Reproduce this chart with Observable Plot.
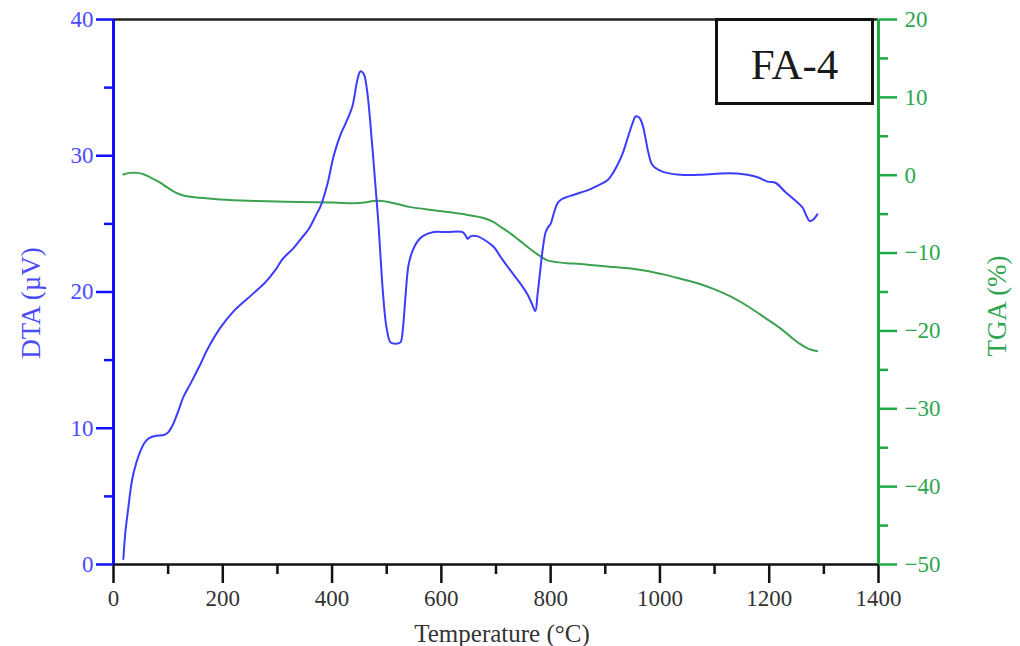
<!DOCTYPE html>
<html>
<head>
<meta charset="utf-8">
<script src="https://cdn.jsdelivr.net/npm/d3@7"></script>
<script src="https://cdn.jsdelivr.net/npm/@observablehq/plot@0.6"></script>
<style>
  html, body { margin: 0; padding: 0; background: #fff; }
  #wrap { position: relative; width: 1020px; height: 646px; overflow: hidden; }
  #tag {
    position: absolute; left: 715px; top: 18px; width: 159px; height: 87px;
    box-sizing: border-box; border: 3px solid #111; background: #fff;
    font-family: "Liberation Serif", serif; font-size: 43px; color: #1a1a1a;
    display: flex; align-items: center; justify-content: center; padding-top: 6px;
  }
  .vtitle {
    position: absolute; white-space: nowrap; font-family: "Liberation Serif", serif;
    font-size: 27px; line-height: 1; transform: translate(-50%, -50%) rotate(-90deg);
  }
  #dtaT { left: 31px; top: 303px; color: #4a4aff; }
  #tgaT { left: 997px; top: 306px; color: #2ea64f; }
  #xT {
    position: absolute; left: 502px; top: 633px; transform: translate(-50%, -50%);
    white-space: nowrap; font-family: "Liberation Serif", serif; font-size: 25px; line-height: 1; color: #333;
  }
</style>
</head>
<body>
<div id="wrap">
  <div id="tag"></div>
  <div id="dtaT" class="vtitle"></div>
  <div id="tgaT" class="vtitle"></div>
  <div id="xT"></div>
</div>
<script>
// ---- data ----
const sampleLabel = "FA-4";
const xTitle = "Temperature (°C)";
const dtaTitle = "DTA (µV)";
const tgaTitle = "TGA (%)";

const xMajorTicks = [0, 200, 400, 600, 800, 1000, 1200, 1400];
const xMinorTicks = [100, 300, 500, 700, 900, 1100, 1300];
const dtaMajorTicks = [0, 10, 20, 30, 40];
const dtaMinorTicks = [5, 15, 25, 35];
const tgaMajorTicks = [-50, -40, -30, -20, -10, 0, 10, 20];
const tgaMinorTicks = [-45, -35, -25, -15, -5, 5, 15];

// DTA curve: temperature (°C) and signal (µV)
const dtaTemp = [18,22,26,34,42,50,58,66,78,92,100,108,118,128,140,159,172,196,220,256,280,296,309,329,345,357,370,380,392,403,415,425,437,446,452,458,464,474,484,494,500,507,516,525,530,534,540,547,556,566,586,610,639,645,648,654,665,680,696,708,726,745,758,766,772,776,781,786,791,796,800,806,814,825,840,855,870,886,904,915,922,932,941,950,956,962,968,974,979,985,992,1007,1038,1070,1111,1140,1160,1180,1197,1212,1228,1245,1261,1268,1274,1280,1288];
const dtaValue = [0.4,2.5,3.8,6.2,7.5,8.4,9.0,9.3,9.45,9.5,9.7,10.2,11.2,12.3,13.2,14.7,15.8,17.4,18.6,19.9,20.8,21.6,22.4,23.2,24.0,24.6,25.6,26.4,28.0,30.0,31.5,32.4,33.6,35.5,36.2,36.0,34.8,30.5,25.5,19.5,17.3,16.3,16.2,16.3,17.5,19.5,22.0,23.0,23.7,24.1,24.4,24.4,24.4,24.1,23.9,24.1,24.1,23.8,23.3,22.6,21.6,20.6,19.8,19.1,18.6,19.8,21.6,23.3,24.4,24.8,25.0,25.8,26.6,26.9,27.1,27.3,27.5,27.8,28.2,28.8,29.3,30.2,31.3,32.4,32.9,32.8,32.3,31.2,30.2,29.4,29.1,28.8,28.6,28.6,28.7,28.7,28.6,28.4,28.1,28.0,27.4,26.8,26.2,25.6,25.2,25.3,25.7];

// TGA curve: temperature (°C) and mass change (%)
const tgaTemp = [18,30,44,56,68,84,99,113,128,159,190,220,282,342,403,439,460,476,492,507,525,544,586,620,648,677,695,708,727,745,763,781,793,805,830,855,915,950,977,1010,1038,1070,1098,1130,1160,1190,1221,1240,1257,1272,1288];
const tgaValue = [0.1,0.3,0.3,0.1,-0.3,-0.9,-1.6,-2.2,-2.6,-2.9,-3.1,-3.2,-3.35,-3.45,-3.5,-3.6,-3.5,-3.3,-3.3,-3.5,-3.8,-4.1,-4.5,-4.8,-5.1,-5.5,-6.0,-6.6,-7.5,-8.5,-9.5,-10.4,-10.9,-11.1,-11.3,-11.4,-11.8,-12.0,-12.3,-12.8,-13.3,-13.9,-14.6,-15.6,-16.8,-18.2,-19.7,-20.8,-21.7,-22.3,-22.6];

// ---- styling ----
const BLUE_AXIS = "#1010ff";
const BLUE_LINE = "#3c3cff";
const BLUE_TEXT = "#4a4aff";
const GREEN_AXIS = "#1faa45";
const GREEN_LINE = "#3da24f";
const GREEN_TEXT = "#2ea64f";
const FONT = "'Liberation Serif', 'Times New Roman', serif";

// secondary axis mapping: TGA [-50, 20] -> DTA scale [0, 40]
const tgaToY = t => (t + 50) * 40 / 70;
const yToTga = y => Math.round(y * 70 / 40 - 50);
const fmt = d3.format("d");

const dta = dtaTemp.map((t, i) => ({t, v: dtaValue[i]}));
const tga = tgaTemp.map((t, i) => ({t, v: tgaToY(tgaValue[i])}));

const chart = Plot.plot({
  width: 1020,
  height: 646,
  marginLeft: 113,
  marginRight: 142,
  marginTop: 19,
  marginBottom: 82,
  x: {domain: [0, 1400]},
  y: {domain: [0, 40]},
  style: {fontFamily: FONT, fontSize: "23px", background: "transparent", overflow: "visible"},
  marks: [
    // x axis
    Plot.axisX({ticks: xMajorTicks, tickSize: 19, tickPadding: 6, tickFormat: d => String(d),
      stroke: "#111", fill: "#333", strokeWidth: 2.5, label: null}),
    Plot.axisX({ticks: xMinorTicks, tickSize: 10, tickFormat: () => "", stroke: "#111", strokeWidth: 2.5, label: null}),
    // left DTA axis
    Plot.axisY({ticks: dtaMajorTicks, tickSize: 17, tickPadding: 3, tickFormat: d => String(d),
      stroke: BLUE_AXIS, fill: BLUE_TEXT, strokeWidth: 2.5, label: null}),
    Plot.axisY({ticks: dtaMinorTicks, tickSize: 9, tickFormat: () => "", stroke: BLUE_AXIS, strokeWidth: 2.5, label: null}),
    // right TGA axis
    Plot.axisY(tgaMajorTicks.map(tgaToY), {anchor: "right", tickSize: 18, tickPadding: 8,
      tickFormat: v => fmt(yToTga(v)), stroke: GREEN_AXIS, fill: GREEN_TEXT, strokeWidth: 2.5, label: null}),
    Plot.axisY(tgaMinorTicks.map(tgaToY), {anchor: "right", tickSize: 9, tickFormat: () => "",
      stroke: GREEN_AXIS, strokeWidth: 2.5, label: null}),
    // frame lines
    Plot.ruleY([0], {stroke: "#111", strokeWidth: 2.5}),
    Plot.ruleY([40], {stroke: "#222", strokeWidth: 2.5}),
    Plot.ruleX([0], {stroke: BLUE_AXIS, strokeWidth: 3}),
    Plot.ruleX([1400], {stroke: GREEN_AXIS, strokeWidth: 3}),
    // curves
    Plot.line(tga, {x: "t", y: "v", stroke: GREEN_LINE, strokeWidth: 2, curve: "catmull-rom"}),
    Plot.line(dta, {x: "t", y: "v", stroke: BLUE_LINE, strokeWidth: 2, curve: "catmull-rom"})
  ]
});

const wrap = document.getElementById("wrap");
wrap.insertBefore(chart, wrap.firstChild);
document.getElementById("tag").textContent = sampleLabel;
document.getElementById("dtaT").textContent = dtaTitle;
document.getElementById("tgaT").textContent = tgaTitle;
document.getElementById("xT").textContent = xTitle;
</script>
</body>
</html>
